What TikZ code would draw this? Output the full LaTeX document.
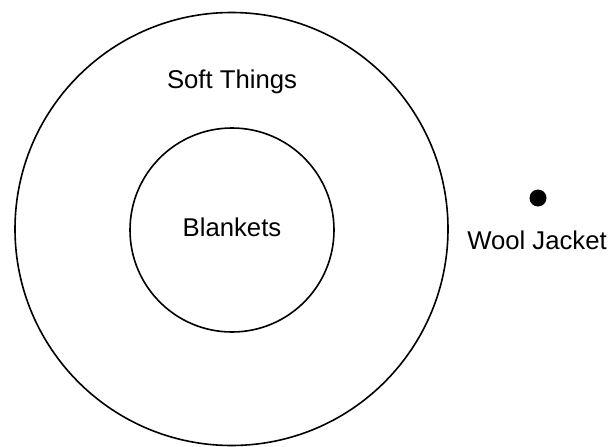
\documentclass[tikz,border=0pt]{standalone}
\usepackage{fontspec}
\setmainfont{Liberation Sans}
\begin{document}
\begin{tikzpicture}[x=1pt,y=-1pt,
  ring/.style={draw=black,line width=1.6pt,circle,inner sep=0pt},
  lbl/.style={font=\fontsize{25.7}{30}\selectfont,inner sep=0pt,anchor=base}]
\useasboundingbox (0,0) rectangle (613,447);
\node[ring,minimum size=433pt] (soft) at (231.5,229) {};
\node[ring,minimum size=204pt] (blank) at (232,230) {};
\node[lbl] (softl) at (232,88) {Soft Things};
\node[lbl] (blankl) at (232,236) {Blankets};
\node[circle,fill=black,minimum size=17pt,inner sep=0pt] (dot) at (538,198) {};
\node[lbl] (wool) at (537,249) {Wool Jacket};
\end{tikzpicture}
\end{document}
